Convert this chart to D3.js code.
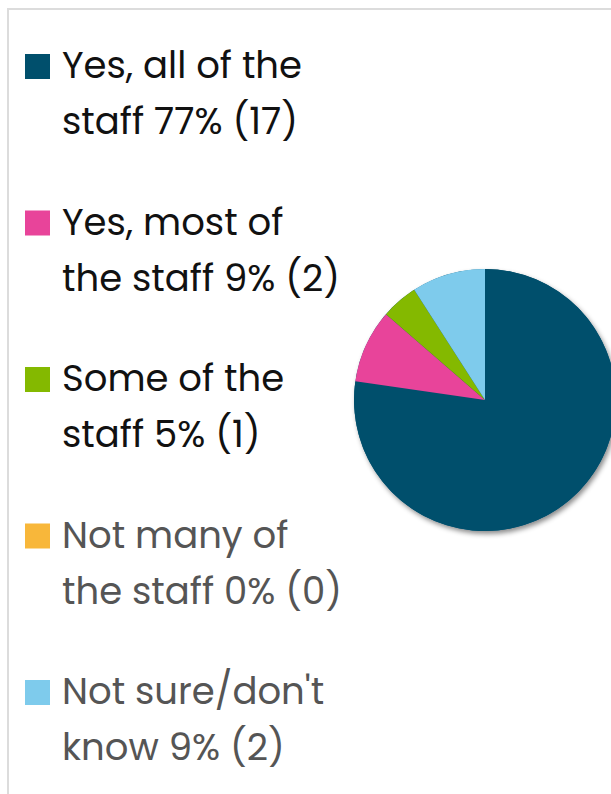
<!DOCTYPE html>
<html>
<head>
<meta charset="utf-8">
<script src="https://cdn.jsdelivr.net/npm/d3@7"></script>
<style>
  html, body { margin: 0; padding: 0; background: #fff; }
  svg { display: block; }
</style>
</head>
<body>
<script>
const categories = ["Yes, all of the staff", "Yes, most of the staff", "Some of the staff", "Not many of the staff", "Not sure/don't know"];
const counts = [17, 2, 1, 0, 2];
const percents = [77, 9, 5, 0, 9];
const colors = ["#004f6c", "#e8449a", "#84b900", "#f8b73a", "#7ecbec"];
const textColors = ["#111111", "#111111", "#111111", "#555555", "#555555"];
// line breaks as they appear in the legend
const labelLines = [
  ["Yes, all of the", "staff 77% (17)"],
  ["Yes, most of", "the staff 9% (2)"],
  ["Some of the", "staff 5% (1)"],
  ["Not many of", "the staff 0% (0)"],
  ["Not sure/don't", "know 9% (2)"]
];

const W = 611, H = 794;
const svg = d3.select("body").append("svg").attr("width", W).attr("height", H);

// frame
svg.append("line").attr("x1", 8).attr("x2", W).attr("y1", 9).attr("y2", 9)
  .attr("stroke", "#dcdcdc").attr("stroke-width", 2);
svg.append("line").attr("x1", 8).attr("x2", 8).attr("y1", 8).attr("y2", H)
  .attr("stroke", "#dcdcdc").attr("stroke-width", 2);

const defs = svg.append("defs");
const f = defs.append("filter").attr("id", "shadow").attr("x", "-20%").attr("y", "-20%").attr("width", "140%").attr("height", "140%");
f.append("feDropShadow").attr("dx", 2).attr("dy", 3).attr("stdDeviation", 2.5)
  .attr("flood-color", "#000").attr("flood-opacity", 0.45);

// legend
const fontFamily = "Poppins, 'DejaVu Sans', sans-serif";
// measure font so that the first line spans about 240px, as in the reference
const probe = svg.append("text").attr("font-family", fontFamily).attr("font-size", 32).text(labelLines[0][0]);
const measured = probe.node().getComputedTextLength();
probe.remove();
const fontSize = Math.max(26, Math.min(42, 32 * 240 / (measured || 240)));

const legendY = d3.scaleLinear().domain([0, categories.length - 1]).range([78, 704]);
const legend = svg.append("g");
categories.forEach((c, i) => {
  const g = legend.append("g").attr("transform", `translate(0,${legendY(i)})`);
  g.append("rect").attr("x", 25).attr("y", -24).attr("width", 25).attr("height", 25).attr("fill", colors[i]);
  const t = g.append("text").attr("x", 62).attr("y", 0)
    .attr("font-family", fontFamily).attr("font-size", fontSize).attr("fill", textColors[i]);
  labelLines[i].forEach((ln, j) => {
    t.append("tspan").attr("x", 62).attr("dy", j === 0 ? 0 : 56).text(ln);
  });
});

// pie
const cx = 485, cy = 400, r = 131;
const pie = d3.pie().sort(null).value(d => d)(counts);
const arc = d3.arc().innerRadius(0).outerRadius(r);
const pg = svg.append("g").attr("transform", `translate(${cx},${cy})`);
pg.append("circle").attr("r", r).attr("fill", colors[0]).attr("filter", "url(#shadow)");
pg.selectAll("path").data(pie).join("path")
  .attr("d", arc).attr("fill", (d, i) => colors[i]);
</script>
</body>
</html>
